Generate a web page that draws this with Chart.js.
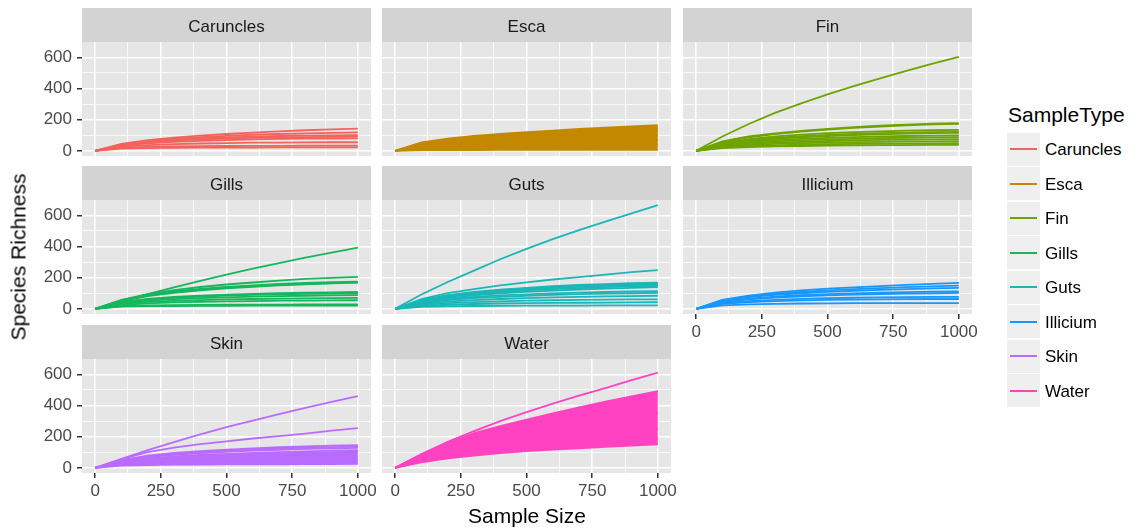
<!DOCTYPE html>
<html>
<head>
<meta charset="utf-8">
<title>Rarefaction curves by sample type</title>
<script src="https://cdn.jsdelivr.net/npm/chart.js@4/dist/chart.umd.min.js"></script>
<style>
  html, body { margin: 0; padding: 0; background: #ffffff; }
  body { width: 1141px; height: 529px; overflow: hidden; position: relative;
         font-family: 'Liberation Sans', Arial, Helvetica, sans-serif; }
  canvas { position: absolute; }
  .txt { position: absolute; white-space: nowrap; line-height: 1; }
  .key { position: absolute; background: #EFEFEF; }
  .keyline { position: absolute; height: 2px; }
</style>
</head>
<body>
<script>
// Rarefaction depths (sample size) shared by every curve
const sampleSizes = [0, 100, 200, 300, 400, 500, 600, 700, 800, 900, 1000];

// Facet / legend categories and their hue palette
const sampleTypes = ['Caruncles', 'Esca', 'Fin', 'Gills', 'Guts', 'Illicium', 'Skin', 'Water'];
const typeColours = ['#F4625D', '#C38800', '#6DA400', '#16B75C', '#1AB6B8', '#1797FF', '#BA6BFF', '#FF42C1'];

// Axis breaks (major carry labels, minor only grid lines)
const xBreaks = [0, 250, 500, 750, 1000];
const xMinorBreaks = [125, 375, 625, 875];
const yBreaks = [0, 200, 400, 600];
const yMinorBreaks = [100, 300, 500];

// Species richness per sample, one row per sample, one value per sample size
const caruncles = [
  [0, 45, 68, 84, 97, 108, 117, 125, 132, 137, 142],
  [0, 42, 62, 76, 87, 96, 103, 108, 112, 115, 118],
  [0, 40, 58, 70, 79, 86, 91, 95, 97, 99, 100],
  [0, 38, 54, 65, 73, 79, 83, 86, 88, 90, 92],
  [0, 34, 48, 57, 64, 69, 73, 76, 78, 79, 80],
  [0, 27, 37, 43, 47, 50, 52, 53, 54, 55, 55],
  [0, 20, 25, 28, 30, 31, 32, 32, 33, 33, 33],
  [0, 14, 17, 19, 20, 21, 21, 22, 22, 22, 22]
];
const esca = [
  [0, 50, 72, 88, 100, 110, 119, 127, 134, 139, 143],
  [0, 46, 66, 80, 91, 100, 108, 115, 120, 124, 127],
  [0, 40, 57, 68, 76, 82, 87, 91, 94, 96, 98],
  [0, 30, 42, 50, 55, 59, 62, 64, 66, 67, 68],
  [0, 20, 27, 31, 34, 36, 37, 38, 39, 40, 40]
];
const escaUpper = [0, 54, 78, 95, 108, 119, 130, 140, 149, 157, 165];
const escaLower = [0, 4, 5, 5, 6, 6, 6, 6, 6, 6, 6];
const fin = [
  [0, 92, 172, 243, 305, 362, 415, 465, 513, 559, 603],
  [0, 60, 92, 112, 128, 141, 152, 161, 168, 174, 178],
  [0, 55, 87, 107, 123, 136, 147, 156, 164, 170, 173],
  [0, 48, 75, 92, 104, 113, 120, 125, 129, 132, 134],
  [0, 45, 68, 83, 94, 102, 108, 113, 117, 120, 122],
  [0, 42, 63, 77, 87, 95, 101, 106, 110, 113, 115],
  [0, 38, 56, 68, 77, 83, 88, 92, 95, 97, 99],
  [0, 34, 50, 60, 67, 73, 77, 81, 84, 86, 88],
  [0, 30, 43, 52, 58, 63, 67, 70, 72, 74, 75],
  [0, 26, 37, 44, 49, 53, 56, 58, 60, 61, 62],
  [0, 22, 30, 35, 39, 42, 44, 46, 47, 48, 49],
  [0, 18, 24, 28, 31, 33, 35, 36, 37, 38, 38]
];
const gills = [
  [0, 50, 95, 138, 180, 220, 258, 293, 328, 361, 393],
  [0, 58, 95, 120, 140, 156, 169, 181, 192, 199, 205],
  [0, 55, 90, 112, 128, 141, 151, 160, 166, 171, 175],
  [0, 52, 86, 107, 123, 136, 146, 154, 160, 165, 170],
  [0, 50, 82, 103, 119, 131, 141, 150, 157, 163, 168],
  [0, 45, 64, 76, 85, 91, 96, 100, 103, 106, 108],
  [0, 42, 60, 71, 79, 85, 89, 93, 96, 98, 100],
  [0, 38, 53, 62, 69, 74, 78, 81, 84, 86, 88],
  [0, 32, 44, 51, 56, 60, 63, 65, 67, 69, 70],
  [0, 26, 35, 41, 45, 48, 50, 52, 53, 54, 55],
  [0, 18, 22, 24, 25, 26, 27, 27, 28, 28, 28],
  [0, 14, 17, 18, 19, 19, 20, 20, 20, 21, 21]
];
const guts = [
  [0, 92, 172, 245, 318, 385, 447, 505, 560, 613, 665],
  [0, 62, 100, 127, 150, 170, 188, 204, 220, 235, 248],
  [0, 55, 88, 108, 123, 135, 145, 153, 159, 164, 168],
  [0, 53, 85, 104, 119, 131, 140, 148, 154, 159, 163],
  [0, 50, 80, 99, 113, 124, 133, 141, 147, 152, 156],
  [0, 47, 75, 93, 106, 117, 126, 133, 139, 144, 148],
  [0, 44, 70, 87, 99, 109, 117, 124, 130, 135, 139],
  [0, 40, 62, 76, 86, 93, 99, 104, 108, 111, 113],
  [0, 36, 56, 68, 77, 84, 89, 94, 97, 100, 102],
  [0, 30, 46, 56, 63, 69, 73, 77, 80, 82, 84],
  [0, 24, 36, 43, 48, 52, 55, 57, 59, 60, 61],
  [0, 18, 26, 31, 34, 36, 38, 39, 40, 41, 42],
  [0, 12, 16, 18, 19, 20, 21, 21, 22, 22, 22]
];
const illicium = [
  [0, 58, 85, 104, 118, 129, 138, 146, 153, 160, 166],
  [0, 55, 80, 96, 108, 118, 126, 133, 139, 144, 149],
  [0, 52, 75, 89, 100, 109, 116, 122, 127, 131, 134],
  [0, 46, 66, 78, 87, 94, 99, 104, 107, 110, 112],
  [0, 43, 61, 72, 80, 86, 91, 95, 98, 100, 102],
  [0, 36, 50, 58, 64, 68, 71, 73, 75, 76, 76],
  [0, 32, 43, 50, 54, 57, 59, 61, 62, 63, 63],
  [0, 22, 29, 32, 34, 35, 36, 36, 37, 37, 37]
];
const skin = [
  [0, 58, 113, 165, 215, 261, 303, 345, 385, 423, 460],
  [0, 55, 100, 130, 152, 170, 188, 204, 220, 238, 255],
  [0, 50, 78, 95, 107, 117, 125, 132, 138, 142, 146],
  [0, 47, 73, 89, 101, 110, 118, 124, 129, 133, 136],
  [0, 44, 68, 83, 94, 103, 110, 116, 121, 125, 128],
  [0, 40, 60, 73, 83, 90, 96, 101, 106, 110, 114],
  [0, 30, 42, 50, 55, 60, 63, 66, 68, 70, 72],
  [0, 22, 30, 35, 39, 42, 44, 46, 47, 48, 49]
];
const skinUpper = [0, 38, 56, 68, 76, 82, 88, 93, 97, 101, 105];
const skinLower = [0, 14, 18, 20, 21, 22, 23, 23, 24, 24, 25];
const water = [
  [0, 88, 166, 236, 300, 358, 412, 463, 512, 562, 611],
  [0, 70, 125, 170, 205, 235, 262, 287, 310, 332, 352],
  [0, 55, 95, 125, 150, 172, 190, 207, 222, 236, 250],
  [0, 45, 78, 100, 118, 133, 146, 157, 167, 176, 185]
];
const waterUpper = [0, 85, 160, 222, 268, 309, 350, 388, 424, 458, 492];
const waterLower = [0, 35, 60, 78, 95, 108, 117, 125, 135, 143, 151];

// Facet contents in panel order
const panelCurves = [caruncles, esca, fin, gills, guts, illicium, skin, water];
const panelBands = [null, [escaLower, escaUpper], null, null, null, null, [skinLower, skinUpper], [waterLower, waterUpper]];

// ---- layout of the facet grid ----
const FONT = "'Liberation Sans', Arial, Helvetica, sans-serif";
const colLeft = [82, 382, 683];
const rowTop = [8, 166, 325];
const panelW = 289, stripH = 34, plotH = 114;
const axisW = 60, axisH = 40, padRight = 30;

// shared y range: data range expanded by 5% on both sides
const allValues = panelCurves.flat(2).concat(panelBands.filter(b => b).flat(2));
const yMaxData = Math.max(...allValues);
const yMinData = Math.min(...allValues);
const ySpan = yMaxData - yMinData;
const yLo = yMinData - 0.05 * ySpan, yHi = yMaxData + 0.05 * ySpan;
const xSpan = sampleSizes[sampleSizes.length - 1] - sampleSizes[0];
const xLo = sampleSizes[0] - 0.05 * xSpan, xHi = sampleSizes[sampleSizes.length - 1] + 0.05 * xSpan;

const xGrid = xBreaks.concat(xMinorBreaks).sort((a, b) => a - b);
const yGrid = yBreaks.concat(yMinorBreaks).sort((a, b) => a - b);

// strip header and grey panel background
const facetStrip = {
  id: 'facetStrip',
  beforeDraw(chart, args, opts) {
    const { ctx, chartArea: a } = chart;
    ctx.save();
    ctx.fillStyle = '#D3D3D3';
    ctx.fillRect(a.left, a.top - stripH, a.right - a.left, stripH);
    ctx.fillStyle = '#E6E6E6';
    ctx.fillRect(a.left, a.top, a.right - a.left, a.bottom - a.top);
    ctx.fillStyle = '#1A1A1A';
    ctx.font = '17px ' + FONT;
    ctx.textAlign = 'center';
    ctx.textBaseline = 'alphabetic';
    ctx.fillText(opts.label, (a.left + a.right) / 2, a.top - 10);
    ctx.restore();
  }
};

function toPoints(values) {
  return sampleSizes.map((x, i) => ({ x: x, y: values[i] }));
}

function buildDatasets(curves, band, colour) {
  const ds = [];
  if (band) {
    ds.push({ data: toPoints(band[0]), borderColor: colour, backgroundColor: colour, fill: false });
    ds.push({ data: toPoints(band[1]), borderColor: colour, backgroundColor: colour, fill: 0 });
  }
  curves.forEach(c => ds.push({ data: toPoints(c), borderColor: colour, backgroundColor: colour, fill: false }));
  return ds;
}

function drawPanel(i) {
  const col = i % 3, row = Math.floor(i / 3);
  const showY = col === 0;
  const showX = i + 3 >= sampleTypes.length;
  const canvas = document.createElement('canvas');
  const w = axisW + panelW + padRight, h = stripH + plotH + axisH;
  canvas.width = w; canvas.height = h;
  canvas.style.left = (colLeft[col] - axisW) + 'px';
  canvas.style.top = rowTop[row] + 'px';
  canvas.style.width = w + 'px'; canvas.style.height = h + 'px';
  document.body.appendChild(canvas);

  const isMajorX = v => xBreaks.includes(v);
  const isMajorY = v => yBreaks.includes(v);
  const tickFont = { family: FONT, size: 17 };

  new Chart(canvas, {
    type: 'line',
    data: { datasets: buildDatasets(panelCurves[i], panelBands[i], typeColours[i]) },
    plugins: [facetStrip],
    options: {
      responsive: false,
      animation: false,
      devicePixelRatio: 1,
      layout: { padding: { top: stripH, right: padRight, left: 0, bottom: 0 } },
      elements: { point: { radius: 0, hoverRadius: 0 }, line: { borderWidth: 1.8, tension: 0 } },
      events: [],
      plugins: {
        legend: { display: false },
        tooltip: { enabled: false },
        facetStrip: { label: sampleTypes[i] }
      },
      scales: {
        x: {
          type: 'linear', min: xLo, max: xHi,
          afterBuildTicks: s => { s.ticks = xGrid.map(v => ({ value: v })); },
          afterFit: s => { s.height = axisH; },
          border: { display: false },
          grid: {
            color: '#FFFFFF',
            lineWidth: c => (c.tick && isMajorX(c.tick.value)) ? 1.5 : 0.75,
            drawTicks: showX, tickLength: 5, tickWidth: 1.5,
            tickColor: c => (c.tick && isMajorX(c.tick.value)) ? '#333333' : 'rgba(0,0,0,0)'
          },
          ticks: {
            display: showX, autoSkip: false, maxRotation: 0, minRotation: 0, padding: 3,
            color: '#4A4A4A', font: tickFont,
            callback: v => isMajorX(v) ? String(v) : ''
          }
        },
        y: {
          type: 'linear', min: yLo, max: yHi,
          afterBuildTicks: s => { s.ticks = yGrid.map(v => ({ value: v })); },
          afterFit: s => { s.width = axisW; },
          border: { display: false },
          grid: {
            color: '#FFFFFF',
            lineWidth: c => (c.tick && isMajorY(c.tick.value)) ? 1.5 : 0.75,
            drawTicks: showY, tickLength: 5, tickWidth: 1.5,
            tickColor: c => (c.tick && isMajorY(c.tick.value)) ? '#333333' : 'rgba(0,0,0,0)'
          },
          ticks: {
            display: showY, autoSkip: false, padding: 5,
            color: '#4A4A4A', font: tickFont,
            callback: v => isMajorY(v) ? String(v) : ''
          }
        }
      }
    }
  });
}

sampleTypes.forEach((t, i) => drawPanel(i));

// axis titles
function addText(text, css) {
  const d = document.createElement('div');
  d.className = 'txt';
  d.textContent = text;
  Object.assign(d.style, css);
  document.body.appendChild(d);
  return d;
}
addText('Sample Size', { left: '527px', top: '515px', fontSize: '21px', color: '#000',
  transform: 'translate(-50%, -50%)' });
addText('Species Richness', { left: '18px', top: '257px', fontSize: '21px', color: '#000',
  transform: 'translate(-50%, -50%) rotate(-90deg)' });

// legend
addText('SampleType', { left: '1008px', top: '104px', fontSize: '21px', color: '#000' });
sampleTypes.forEach((t, i) => {
  const cy = 149 + 34.57 * i;
  const k = document.createElement('div');
  k.className = 'key';
  Object.assign(k.style, { left: '1007px', top: (cy - 16.5) + 'px', width: '33px', height: '33px' });
  document.body.appendChild(k);
  const l = document.createElement('div');
  l.className = 'keyline';
  Object.assign(l.style, { left: '1010px', top: (cy - 1) + 'px', width: '27px', background: typeColours[i] });
  document.body.appendChild(l);
  addText(t, { left: '1045px', top: cy + 'px', fontSize: '17px', color: '#000', transform: 'translateY(-50%)' });
});
</script>
</body>
</html>
